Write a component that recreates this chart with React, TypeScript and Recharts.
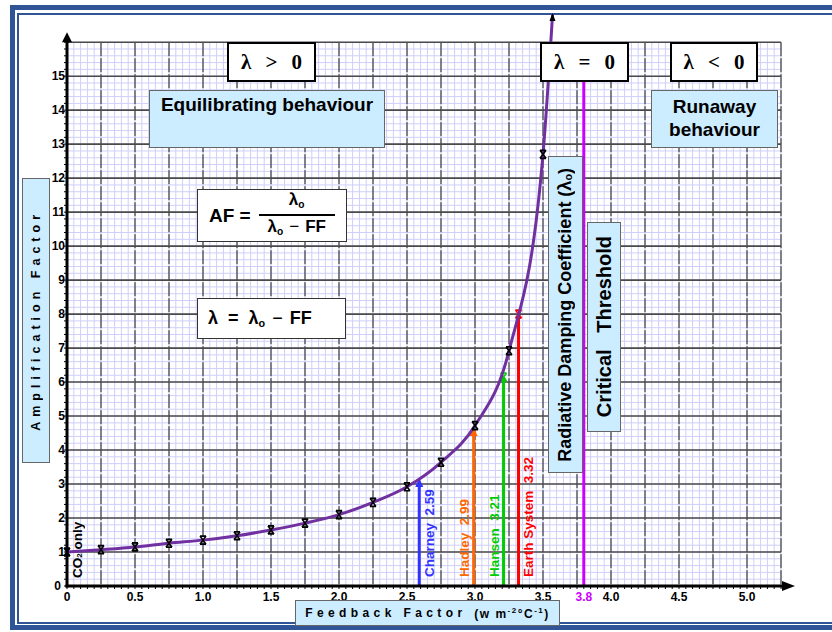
import React from "react";
import {
  ComposedChart,
  Line,
  XAxis,
  YAxis,
  CartesianGrid,
  ReferenceLine,
} from "recharts";

// curve: amplification factor against feedback factor
const feedbackFactor = [0, 0.25, 0.5, 0.75, 1.0, 1.25, 1.5, 1.75, 2.0, 2.25, 2.5, 2.75, 3.0, 3.25, 3.5, 3.57];
const amplification = [1.0, 1.07, 1.15, 1.26, 1.35, 1.48, 1.65, 1.85, 2.1, 2.46, 2.92, 3.64, 4.72, 6.92, 12.7, 16.8];

// model estimates drawn as vertical lines
const modelNames = ["Charney", "Hadley", "Hansen", "Earth System"];
const modelFF = [2.59, 2.99, 3.21, 3.32];
const modelAF = [3.18, 4.68, 6.15, 8.0];

const criticalFF = 3.8;

const xLabelTicks = [0, 0.5, 1.0, 1.5, 2.0, 2.5, 3.0, 3.5, 4.0, 4.5, 5.0];
const yLabelTicks = [0, 1, 2, 3, 4, 5, 6, 7, 8, 9, 10, 11, 12, 13, 14, 15];

const X_MAX = 5.25;
const GRID_TOP = 16;
const Y_MAX = 16.8;

const curveData = feedbackFactor.map((ff, i) => ({ ff, af: amplification[i] }));

const steps = (max: number, step: number) =>
  Array.from({ length: Math.round(max / step) + 1 }, (_, i) => Math.round(i * step * 1000) / 1000);
const minorX = steps(X_MAX, 0.05);
const majorX = steps(X_MAX, 0.25);
const minorY = steps(GRID_TOP, 0.2);
const majorY = steps(GRID_TOP, 1);

// layout
const W = 832;
const H = 632;
const MARGIN = { top: 15, right: 51, bottom: 16, left: 27 };
const Y_AXIS_W = 40;
const X_AXIS_H = 30;
const PLOT_H = H - MARGIN.top - MARGIN.bottom - X_AXIS_H;
const GRID_Y = MARGIN.top + (PLOT_H * (Y_MAX - GRID_TOP)) / Y_MAX;
const GRID_H = MARGIN.top + PLOT_H - GRID_Y;

const SANS = "'Liberation Sans', Arial, Helvetica, sans-serif";
const SERIF = "'Liberation Serif', 'Times New Roman', serif";
const PURPLE = "#7030A0";
const MAGENTA = "#CC00FF";
const BOX_BLUE = "#CCECFF";
const FRAME = "#2F5597";
const MODEL_COLORS = ["#3333FF", "#FF6600", "#00CC00", "#FF0000"];
const MODEL_LABEL_DX = [14.5, -5, -4.5, 14.5];

const near = (a: number, b: number) => Math.abs(a - b) < 1e-6;

const XTick = (props: any) => {
  const { x, y, payload } = props;
  const v = payload.value;
  const crit = near(v, criticalFF);
  if (!crit && !xLabelTicks.some((t) => near(t, v))) return <g />;
  const text = crit ? "3.8" : v === 0 ? "0" : v.toFixed(1);
  return (
    <text x={x} y={y} dy={10} textAnchor="middle" fill={crit ? MAGENTA : "#000"}
      fontSize={12} fontWeight="bold" fontFamily={SANS}>
      {text}
    </text>
  );
};

const YTick = (props: any) => {
  const { x, y, payload } = props;
  const v = payload.value;
  if (!yLabelTicks.some((t) => near(t, v))) return <g />;
  return (
    <text x={v === 0 ? x - 1 : x + 3} y={y} dy={4.3} textAnchor="end" fill="#000"
      fontSize={12} fontWeight="bold" fontFamily={SANS}>
      {v}
    </text>
  );
};

const XMark = ({ cx, cy, color }: { cx: number; cy: number; color: string }) => (
  <path
    d={`M${cx - 3},${cy - 4}L${cx + 3},${cy + 4}M${cx + 3},${cy - 4}L${cx - 3},${cy + 4}M${cx - 3},${cy - 4}h6M${cx - 3},${cy + 4}h6`}
    stroke={color} strokeWidth={1.6} fill="none"
  />
);

const renderCurveDot = (props: any) => {
  const { cx, cy, index } = props;
  if (index === curveData.length - 1) {
    return (
      <polygon key={`dot-${index}`} points={`${cx},${cy - 2} ${cx - 3},${cy + 6} ${cx + 3},${cy + 6}`} fill="#000" />
    );
  }
  return (
    <g key={`dot-${index}`}>
      <XMark cx={cx} cy={cy} color="#000" />
    </g>
  );
};

const ModelLine = (props: any) => {
  const { x1, y1, y2, i } = props;
  const c = MODEL_COLORS[i];
  const top = Math.min(y1, y2);
  const bottom = Math.max(y1, y2);
  const arrow = i < 2;
  const tx = x1 + MODEL_LABEL_DX[i];
  const ty = bottom - 9;
  return (
    <g>
      <line x1={x1} y1={bottom} x2={x1} y2={arrow ? top + 6 : top} stroke={c} strokeWidth={3} />
      {arrow ? (
        <polygon points={`${x1},${top} ${x1 - 4},${top + 9} ${x1 + 4},${top + 9}`} fill={c} />
      ) : (
        <XMark cx={x1} cy={top} color={c} />
      )}
      <text x={tx} y={ty} transform={`rotate(-90 ${tx} ${ty})`} fill={c} fontSize={13.5}
        fontWeight="bold" fontFamily={SANS} xmlSpace="preserve" style={{ whiteSpace: "pre" }}>
        {`${modelNames[i]}  ${modelFF[i].toFixed(2)}`}
      </text>
    </g>
  );
};

const XAxisArrow = (p: any) => (
  <g>
    <line x1={p.x1 - 1.5} y1={p.y1} x2={p.x2 + 2} y2={p.y2} stroke="#000" strokeWidth={3} />
    <polygon points={`${p.x2 + 1},${p.y2 - 5} ${p.x2 + 14},${p.y2} ${p.x2 + 1},${p.y2 + 5}`} fill="#000" />
  </g>
);

const YAxisArrow = (p: any) => {
  const top = Math.min(p.y1, p.y2);
  const bottom = Math.max(p.y1, p.y2);
  return (
    <g>
      <line x1={p.x1} y1={bottom + 1.5} x2={p.x1} y2={top - 1} stroke="#000" strokeWidth={3} />
      <polygon points={`${p.x1 - 5},${top} ${p.x1},${top - 10} ${p.x1 + 5},${top}`} fill="#000" />
    </g>
  );
};

const abs: React.CSSProperties = {
  position: "absolute",
  boxSizing: "border-box",
  fontFamily: SANS,
  fontWeight: "bold",
  color: "#000",
};
const blueBox: React.CSSProperties = { ...abs, background: BOX_BLUE, border: "1.5px solid #666" };
const lambdaBox: React.CSSProperties = {
  ...abs,
  background: "#fff",
  border: "2px solid #000",
  display: "flex",
  alignItems: "center",
  justifyContent: "center",
  gap: 14,
  fontFamily: SERIF,
  fontSize: 21,
  top: 42,
  height: 40,
};
const vertical: React.CSSProperties = {
  writingMode: "vertical-rl",
  transform: "rotate(180deg)",
  whiteSpace: "pre",
};
const centered: React.CSSProperties = { display: "flex", alignItems: "center", justifyContent: "center" };

const Sub = ({ children }: { children: React.ReactNode }) => (
  <span style={{ fontSize: "0.6em", verticalAlign: "-0.25em" }}>{children}</span>
);

const Overlays = () => (
  <>
    <div style={{ ...lambdaBox, left: 227, width: 89 }}>
      <span>λ</span><span>&gt;</span><span>0</span>
    </div>
    <div style={{ ...lambdaBox, left: 540, width: 89 }}>
      <span>λ</span><span>=</span><span>0</span>
    </div>
    <div style={{ ...lambdaBox, left: 670, width: 88 }}>
      <span>λ</span><span>&lt;</span><span>0</span>
    </div>

    <div style={{ ...blueBox, left: 149, top: 90, width: 236, height: 58, fontSize: 19, textAlign: "center", paddingTop: 3 }}>
      Equilibrating behaviour
    </div>
    <div style={{ ...blueBox, left: 651, top: 90, width: 127, height: 58, fontSize: 19, textAlign: "center", paddingTop: 4, lineHeight: "23px" }}>
      Runaway
      <br />
      behaviour
    </div>

    <div style={{ ...abs, left: 197, top: 189, width: 150, height: 53, background: "#fff", border: "1.5px solid #333", display: "flex", alignItems: "center", paddingLeft: 11, fontSize: 19 }}>
      <span>AF =</span>
      <div style={{ marginLeft: 8, width: 76, display: "flex", flexDirection: "column", alignItems: "center", fontSize: 17 }}>
        <div style={{ lineHeight: "19px" }}>λ<Sub>o</Sub></div>
        <div style={{ width: 76, borderTop: "2.5px solid #000" }} />
        <div style={{ lineHeight: "21px" }}>
          λ<Sub>o</Sub>
          <span style={{ fontWeight: "normal", margin: "0 6px" }}>−</span>FF
        </div>
      </div>
    </div>

    <div style={{ ...abs, left: 197, top: 298, width: 149, height: 41, background: "#fff", border: "1.5px solid #333", display: "flex", alignItems: "center", paddingLeft: 10, fontSize: 18, whiteSpace: "pre" }}>
      <span>λ  =  λ<Sub>o</Sub></span>
      <span style={{ fontWeight: "normal", margin: "0 7px" }}>−</span>
      <span>FF</span>
    </div>

    <div style={{ ...blueBox, ...centered, left: 548, top: 156, width: 35, height: 317, fontSize: 18 }}>
      <div style={vertical}>
        Radiative Damping Coefficient (λ<Sub>o</Sub>)
      </div>
    </div>
    <div style={{ ...blueBox, ...centered, left: 587, top: 222, width: 34, height: 210, fontSize: 20 }}>
      <div style={vertical}>Critical   Threshold</div>
    </div>

    <div style={{ ...blueBox, ...centered, left: 22, top: 178, width: 28, height: 285, fontSize: 12.5 }}>
      <div style={{ ...vertical, letterSpacing: 5 }}>Amplification Factor</div>
    </div>
    <div style={{ ...blueBox, ...centered, left: 295, top: 600, width: 265, height: 26, fontSize: 12, whiteSpace: "pre" }}>
      <span style={{ letterSpacing: 4.4 }}>Feedback Factor </span>
      <span style={{ letterSpacing: 1.5 }}>
        (w m<sup style={{ fontSize: 8 }}>-2</sup>°C<sup style={{ fontSize: 8 }}>-1</sup>)
      </span>
    </div>

    <div style={{ ...abs, left: 70, top: 512, width: 16, height: 66, fontSize: 13.5 }}>
      <div style={{ ...vertical, height: 66, textAlign: "left" }}>
        CO<Sub>2</Sub> only
      </div>
    </div>
  </>
);

const App = () => (
  <div style={{ position: "absolute", left: 0, top: 0, width: W, height: H, background: "#fff", overflow: "hidden" }}>
    <div style={{ position: "absolute", left: 10, top: 5, width: 900, height: 625, border: `5px solid ${FRAME}`, boxSizing: "border-box" }} />
    <div style={{ position: "absolute", left: 17, top: 13, width: 900, height: 611, border: `2px solid ${FRAME}`, boxSizing: "border-box" }} />
    <div style={{ position: "absolute", left: 0, top: 0 }}>
      <ComposedChart width={W} height={H} data={curveData} margin={MARGIN}>
        <CartesianGrid y={GRID_Y} height={GRID_H} verticalValues={minorX} horizontalValues={minorY} stroke="#CFCFFA" strokeWidth={1} />
        <CartesianGrid y={GRID_Y} height={GRID_H} horizontal={false} verticalValues={majorX} stroke="#1a1a1a" strokeDasharray="14 2" />
        <CartesianGrid y={GRID_Y} height={GRID_H} vertical={false} horizontalValues={majorY} stroke="#4a4a4a" strokeWidth={1.6} />
        <XAxis type="number" dataKey="ff" domain={[0, X_MAX]} ticks={minorX} interval={0} tickSize={3}
          axisLine={false} tickLine={{ stroke: "#000" }} tick={(p: any) => <XTick {...p} />} height={X_AXIS_H} />
        <YAxis type="number" domain={[0, Y_MAX]} ticks={minorY} interval={0} tickSize={3}
          axisLine={false} tickLine={{ stroke: "#000" }} tick={(p: any) => <YTick {...p} />} width={Y_AXIS_W} />

        {modelNames.map((name, i) => (
          <ReferenceLine key={name} segment={[{ x: modelFF[i], y: 0 }, { x: modelFF[i], y: modelAF[i] }]}
            shape={(p: any) => <ModelLine {...p} i={i} />} />
        ))}
        <ReferenceLine segment={[{ x: criticalFF, y: 0 }, { x: criticalFF, y: GRID_TOP }]} stroke={MAGENTA} strokeWidth={3} />

        <Line type="monotone" dataKey="af" stroke={PURPLE} strokeWidth={3} dot={renderCurveDot}
          activeDot={false} isAnimationActive={false} />

        <ReferenceLine segment={[{ x: 0, y: 0 }, { x: X_MAX, y: 0 }]} shape={XAxisArrow} />
        <ReferenceLine segment={[{ x: 0, y: 0 }, { x: 0, y: GRID_TOP }]} shape={YAxisArrow} />
      </ComposedChart>
    </div>
    <Overlays />
  </div>
);

export default App;
